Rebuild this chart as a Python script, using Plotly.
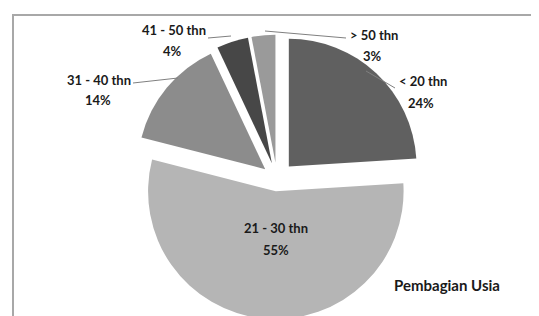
import plotly.graph_objects as go

# ---- data ----
categories = ["< 20 thn", "21 - 30 thn", "31 - 40 thn", "41 - 50 thn", "> 50 thn"]
values = [24, 55, 14, 4, 3]
colors = ["#606060", "#b5b5b5", "#8c8c8c", "#474747", "#9a9a9a"]
pulls = [0.135, 0.097, 0.12, 0.13, 0.13]
title_text = "Pembagian Usia"

W, H = 539, 316


def px(x):
    return x / W


def py(y):
    return 1 - y / H


total = sum(values)
pcts = [round(v * 100 / total) for v in values]

fig = go.Figure(
    go.Pie(
        labels=categories,
        values=values,
        sort=False,
        direction="clockwise",
        rotation=0,
        pull=pulls,
        marker=dict(colors=colors, line=dict(width=0)),
        textinfo="none",
        hoverinfo="label+percent",
        domain=dict(x=[px(124), px(414)], y=[0, py(26)]),
        showlegend=False,
    )
)

# label placement (pixel centres) : label line, percent line
label_pos = {
    "< 20 thn": ((415, 73), (413, 95)),
    "21 - 30 thn": ((268, 220), (268, 242)),
    "31 - 40 thn": ((91, 72), (90, 92)),
    "41 - 50 thn": ((166, 22), (164, 43)),
    "> 50 thn": ((366, 27), (364, 48)),
}
leaders = {
    "< 20 thn": ((358, 63), (387, 80)),
    "31 - 40 thn": ((125, 75), (170, 70)),
    "41 - 50 thn": ((200, 30), (223, 28)),
    "> 50 thn": ((257, 23), (338, 30)),
}

font = dict(family="Lato, 'Open Sans', sans-serif", size=13, color="#1a1a1a")
annotations = []
shapes = []
for cat, pct in zip(categories, pcts):
    (lx, ly), (qx, qy) = label_pos[cat]
    annotations.append(dict(x=px(lx), y=py(ly), xref="paper", yref="paper",
                            text="<b>%s</b>" % cat, showarrow=False, font=font,
                            xanchor="center", yanchor="middle"))
    annotations.append(dict(x=px(qx), y=py(qy), xref="paper", yref="paper",
                            text="<b>%d%%</b>" % pct, showarrow=False, font=font,
                            xanchor="center", yanchor="middle"))
    if cat in leaders:
        (x0, y0), (x1, y1) = leaders[cat]
        shapes.append(dict(type="line", xref="paper", yref="paper",
                           x0=px(x0), y0=py(y0), x1=px(x1), y1=py(y1),
                           line=dict(color="#808080", width=1)))

annotations.append(dict(x=px(384), y=py(277), xref="paper", yref="paper",
                        text="<b>%s</b>" % title_text, showarrow=False,
                        font=dict(family="Lato, 'Open Sans', sans-serif", size=15, color="#1a1a1a"),
                        xanchor="left", yanchor="middle"))

# chart frame
shapes.append(dict(type="rect", xref="paper", yref="paper",
                   x0=px(5), x1=1.05, y0=py(313), y1=py(7),
                   line=dict(color="#a8a8a8", width=2), fillcolor="rgba(0,0,0,0)",
                   layer="below"))

fig.update_layout(
    width=W, height=H,
    margin=dict(l=0, r=0, t=0, b=0),
    paper_bgcolor="white",
    plot_bgcolor="white",
    annotations=annotations,
    shapes=shapes,
)

fig.write_html("out.html")
